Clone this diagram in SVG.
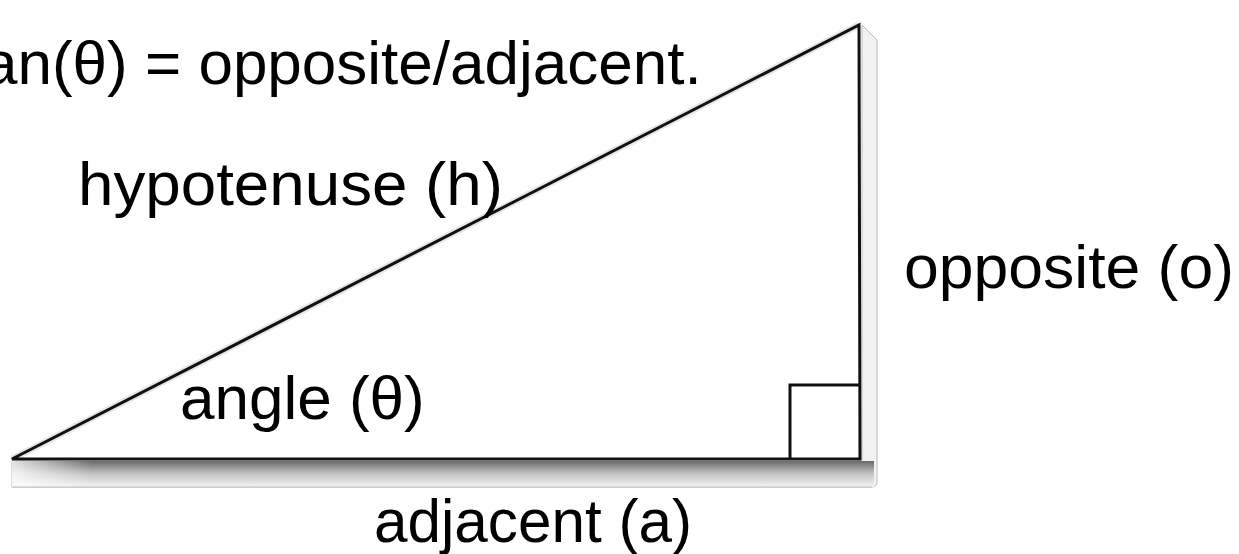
<svg xmlns="http://www.w3.org/2000/svg" width="1239" height="554" viewBox="0 0 1239 554">
  <style>
    .lbl { font-family: "Liberation Sans", Arial, sans-serif; font-size: 62px; fill: #000; }
    .edge { stroke: #111; stroke-width: 3; fill: none; }
  </style>
  <defs>
    <linearGradient id="shB" x1="0" y1="0" x2="0" y2="1">
      <stop offset="0" stop-color="#6a6a6a"/>
      <stop offset="0.5" stop-color="#c4c4c4"/>
      <stop offset="1" stop-color="#f4f4f4"/>
    </linearGradient>
    <linearGradient id="shR" x1="0" y1="0" x2="1" y2="0">
      <stop offset="0" stop-color="#c8c8c8"/>
      <stop offset="1" stop-color="#f2f2f2"/>
    </linearGradient>
    <linearGradient id="fadeL" x1="0" y1="0" x2="1" y2="0">
      <stop offset="0" stop-color="#fff" stop-opacity="0.8"/>
      <stop offset="1" stop-color="#fff" stop-opacity="0"/>
    </linearGradient>
  </defs>

  <g id="title">
    <text class="lbl" x="-17" y="84" font-size="64">an(θ) = opposite/adjacent.</text>
  </g>

  <g id="shadow">
    <path d="M862,25 L877,40 L877,482 Q877,487 872,487 L12,487 L12,461 L862,461 Z" fill="url(#shR)" stroke="#bdbdbd" stroke-width="1"/>
    <rect x="12" y="461" width="862" height="26" fill="url(#shB)"/>
    <rect x="12" y="461" width="80" height="26" fill="url(#fadeL)"/>
    <line x1="12" y1="487" x2="872" y2="487" stroke="#bdbdbd" stroke-width="1"/>
  </g>

  <g id="triangle">
    <line x1="12" y1="459" x2="859" y2="25" stroke="#e6e6e6" stroke-width="7"/>
    <path class="edge" d="M12,459 L859,25 L860,459 Z" stroke-linejoin="miter"/>
    <path class="edge" d="M790,459 L790,385 L860,385"/>
  </g>

  <g id="labels">
    <text class="lbl" x="78" y="205" font-size="63" textLength="425" lengthAdjust="spacingAndGlyphs">hypotenuse (h)</text>
    <text class="lbl" x="180" y="419" font-size="61">angle (θ)</text>
    <text class="lbl" x="904" y="288" textLength="330" lengthAdjust="spacingAndGlyphs">opposite (o)</text>
    <text class="lbl" x="374" y="542" font-size="61" textLength="318" lengthAdjust="spacingAndGlyphs">adjacent (a)</text>
  </g>
</svg>
